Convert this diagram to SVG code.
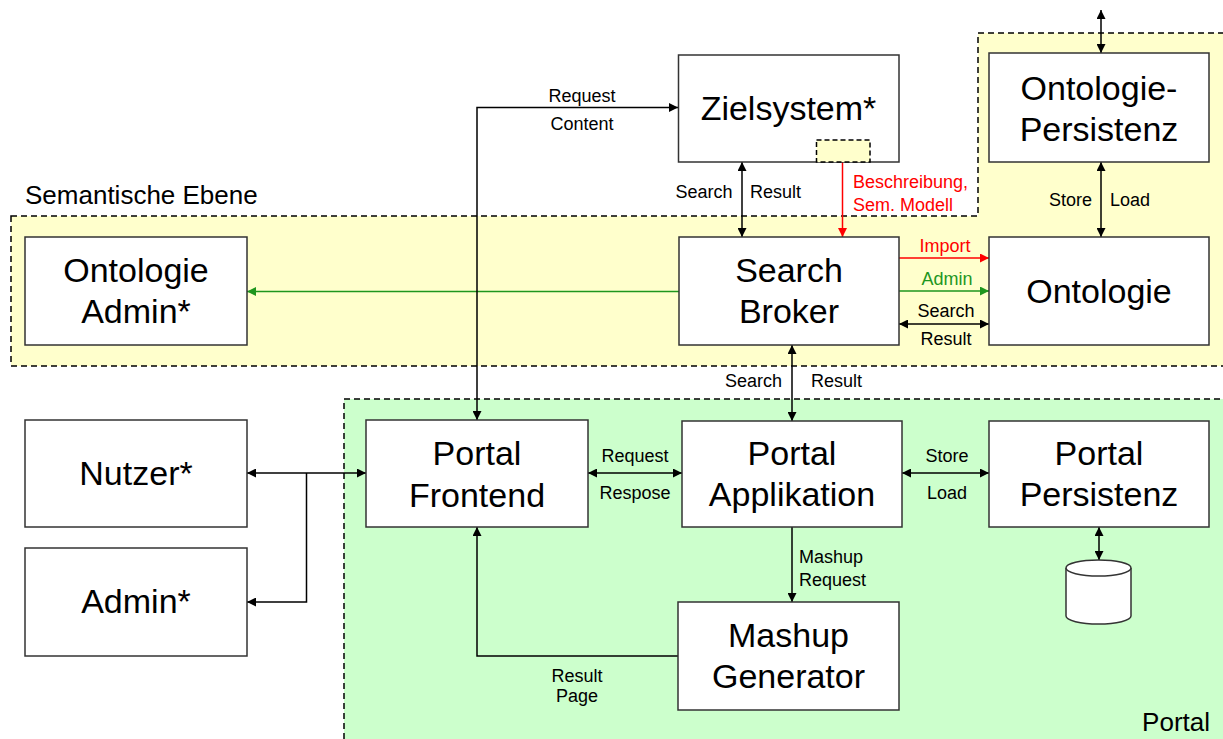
<svg xmlns="http://www.w3.org/2000/svg" width="1223" height="739" viewBox="0 0 1223 739">
<style>
text{font-family:"Liberation Sans",Arial,sans-serif;fill:#000}
.box{fill:#fff;stroke:#333;stroke-width:1.5}
.big{font-size:34px;text-anchor:middle}
.lbl{font-size:18px}
.grp{font-size:26px}
.c{stroke:#000;stroke-width:1.5;fill:none}
.red{stroke:#ff0000}
.grn{stroke:#1e961e}
.mid{text-anchor:middle}
.end{text-anchor:end}
</style>
<defs>
<marker id="ab" viewBox="0 0 10 10" refX="10" refY="5" markerWidth="10" markerHeight="9" markerUnits="userSpaceOnUse" orient="auto-start-reverse"><path d="M0,0 L10,5 L0,10 z" fill="#000"/></marker>
<marker id="ar" viewBox="0 0 10 10" refX="10" refY="5" markerWidth="10" markerHeight="9" markerUnits="userSpaceOnUse" orient="auto-start-reverse"><path d="M0,0 L10,5 L0,10 z" fill="#ff0000"/></marker>
<marker id="ag" viewBox="0 0 10 10" refX="10" refY="5" markerWidth="10" markerHeight="9" markerUnits="userSpaceOnUse" orient="auto-start-reverse"><path d="M0,0 L10,5 L0,10 z" fill="#1e961e"/></marker>
</defs>
<rect width="1223" height="739" fill="#fff"/>
<g id="semantische-ebene">
<path d="M11,216 H978 V33 H1226 V366 H11 Z" fill="#ffffcc" stroke="#000" stroke-width="1.5" stroke-dasharray="6,4"/>
<text class="grp" x="25" y="204">Semantische Ebene</text>
</g>
<g id="portal">
<rect x="344" y="399" width="885" height="345" fill="#ccffcc" stroke="#000" stroke-width="1.5" stroke-dasharray="6,4"/>
<text class="grp end" x="1210" y="731">Portal</text>
</g>
<g id="connectors">
<line class="c" x1="1101" y1="10" x2="1101" y2="53" marker-start="url(#ab)" marker-end="url(#ab)"/>
<line class="c" x1="1101" y1="162" x2="1101" y2="237" marker-start="url(#ab)" marker-end="url(#ab)"/>
<line class="c" x1="742" y1="162" x2="742" y2="237" marker-start="url(#ab)" marker-end="url(#ab)"/>
<line class="c red" x1="842.5" y1="162" x2="842.5" y2="237" marker-end="url(#ar)"/>
<line class="c red" x1="899" y1="258" x2="989" y2="258" marker-end="url(#ar)"/>
<line class="c grn" x1="899" y1="291" x2="989" y2="291" marker-end="url(#ag)"/>
<line class="c" x1="899" y1="324" x2="989" y2="324" marker-start="url(#ab)" marker-end="url(#ab)"/>
<line class="c grn" x1="679" y1="291.5" x2="247" y2="291.5" marker-end="url(#ag)"/>
<line class="c" x1="792" y1="345" x2="792" y2="421" marker-start="url(#ab)" marker-end="url(#ab)"/>
<path class="c" d="M477,420 V107.5 H678" marker-start="url(#ab)" marker-end="url(#ab)"/>
<line class="c" x1="588" y1="473" x2="682" y2="473" marker-start="url(#ab)" marker-end="url(#ab)"/>
<line class="c" x1="902" y1="473" x2="989" y2="473" marker-start="url(#ab)" marker-end="url(#ab)"/>
<line class="c" x1="792" y1="527" x2="792" y2="602" marker-end="url(#ab)"/>
<path class="c" d="M678,656 H477 V527" marker-end="url(#ab)"/>
<line class="c" x1="247" y1="473" x2="366" y2="473" marker-start="url(#ab)" marker-end="url(#ab)"/>
<path class="c" d="M306.5,473 V602 H247" marker-end="url(#ab)"/>
<line class="c" x1="1099" y1="527" x2="1099" y2="560" marker-start="url(#ab)" marker-end="url(#ab)"/>
<text class="lbl mid" x="582" y="101.5">Request</text>
<text class="lbl mid" x="582" y="130">Content</text>
<text class="lbl end" x="732.5" y="198">Search</text>
<text class="lbl" x="750" y="198">Result</text>
<text class="lbl" x="853" y="188" fill="#ff0000" style="fill:#ff0000">Beschreibung,</text>
<text class="lbl" x="853" y="210.5" style="fill:#ff0000">Sem. Modell</text>
<text class="lbl end" x="1092" y="205.5">Store</text>
<text class="lbl" x="1110" y="205.5">Load</text>
<text class="lbl mid" x="945" y="252" style="fill:#ff0000">Import</text>
<text class="lbl mid" x="947" y="285" style="fill:#1e961e">Admin</text>
<text class="lbl mid" x="946" y="316.5">Search</text>
<text class="lbl mid" x="946" y="345">Result</text>
<text class="lbl end" x="782" y="387">Search</text>
<text class="lbl" x="811" y="387">Result</text>
<text class="lbl mid" x="635" y="462">Request</text>
<text class="lbl mid" x="635" y="499">Respose</text>
<text class="lbl mid" x="947" y="462">Store</text>
<text class="lbl mid" x="947" y="499">Load</text>
<text class="lbl" x="799" y="563">Mashup</text>
<text class="lbl" x="799" y="586">Request</text>
<text class="lbl mid" x="577" y="681.5">Result</text>
<text class="lbl mid" x="577" y="702">Page</text>
</g>
<g id="zielsystem">
<rect class="box" x="678.5" y="55" width="220.5" height="107"/>
<rect x="816.5" y="140" width="53.5" height="22" fill="#ffffcc" stroke="#000" stroke-width="1.5" stroke-dasharray="5,3"/>
<text class="big" x="788.5" y="120">Zielsystem*</text>
</g>
<g id="ontologie-persistenz">
<rect class="box" x="989" y="53" width="220" height="109"/>
<text class="big" x="1099" y="100">Ontologie-</text>
<text class="big" x="1099" y="141">Persistenz</text>
</g>
<g id="ontologie-admin">
<rect class="box" x="25" y="237" width="222" height="108"/>
<text class="big" x="136" y="282">Ontologie</text>
<text class="big" x="136" y="323">Admin*</text>
</g>
<g id="search-broker">
<rect class="box" x="679" y="237" width="220" height="108"/>
<text class="big" x="789" y="282">Search</text>
<text class="big" x="789" y="323">Broker</text>
</g>
<g id="ontologie">
<rect class="box" x="989" y="237" width="220" height="108"/>
<text class="big" x="1099" y="303">Ontologie</text>
</g>
<g id="nutzer">
<rect class="box" x="25" y="420" width="222" height="107"/>
<text class="big" x="136" y="485">Nutzer*</text>
</g>
<g id="admin">
<rect class="box" x="25" y="548" width="222" height="108"/>
<text class="big" x="136" y="613">Admin*</text>
</g>
<g id="portal-frontend">
<rect class="box" x="366" y="420" width="222" height="107"/>
<text class="big" x="477" y="465">Portal</text>
<text class="big" x="477" y="507">Frontend</text>
</g>
<g id="portal-applikation">
<rect class="box" x="682" y="421" width="220" height="106"/>
<text class="big" x="792" y="465">Portal</text>
<text class="big" x="792" y="506">Applikation</text>
</g>
<g id="portal-persistenz">
<rect class="box" x="989" y="421" width="220" height="106"/>
<text class="big" x="1099" y="465">Portal</text>
<text class="big" x="1099" y="506">Persistenz</text>
</g>
<g id="mashup-generator">
<rect class="box" x="678" y="602" width="221" height="108"/>
<text class="big" x="788.5" y="647">Mashup</text>
<text class="big" x="788.5" y="688">Generator</text>
</g>
<g id="datenbank">
<path d="M1066,568 V616 A32.5,8 0 0 0 1131,616 V568" fill="#fff" stroke="#333" stroke-width="1.5"/>
<ellipse cx="1098.5" cy="568" rx="32.5" ry="8" fill="#fff" stroke="#333" stroke-width="1.5"/>
</g>
</svg>
